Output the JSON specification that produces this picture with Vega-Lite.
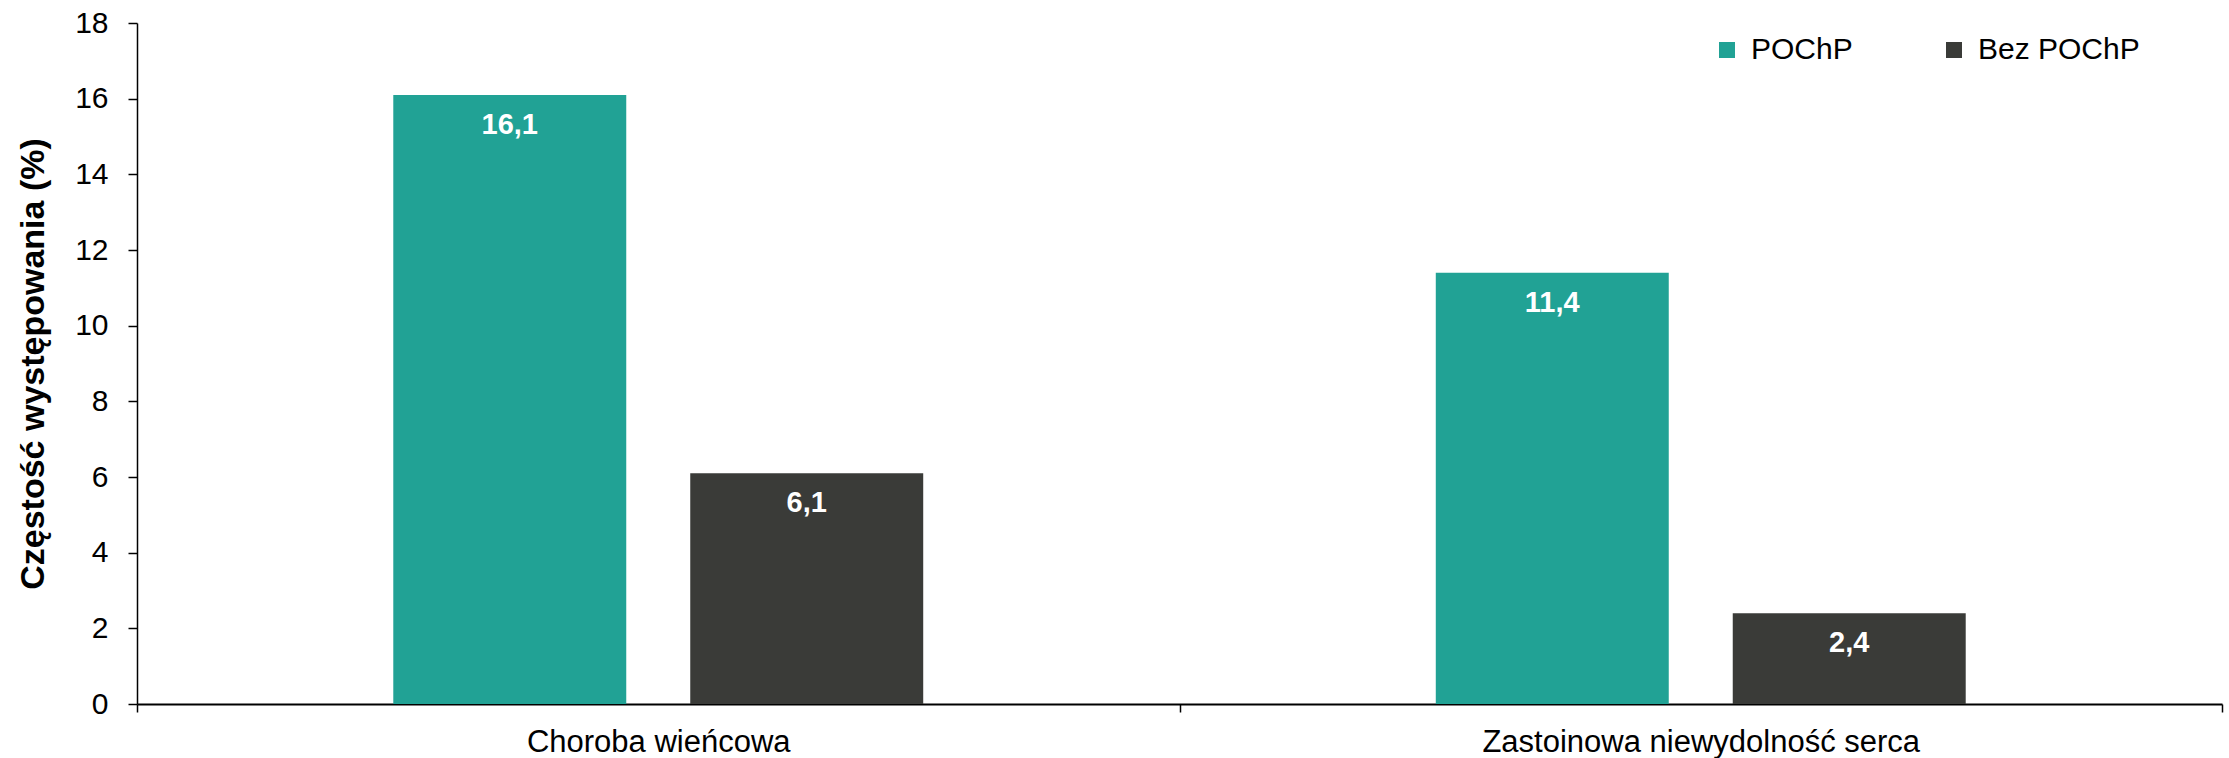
{
  "$schema": "https://vega.github.io/schema/vega-lite/v6.json",
  "width": 2085,
  "height": 681,
  "autosize": {"type": "none"},
  "padding": {"left": 137, "top": 23, "right": 7, "bottom": 54},
  "background": "white",
  "config": {
    "font": "Liberation Sans",
    "view": {"stroke": null},
    "axis": {"domainColor": "black", "tickColor": "black", "labelColor": "black", "titleColor": "black", "domainWidth": 1.5, "tickWidth": 1.5}
  },
  "data": {
    "values": [
      {"kategoria": "Choroba wieńcowa", "grupa": "POChP", "wartosc": 16.1, "etykieta": "16,1"},
      {"kategoria": "Choroba wieńcowa", "grupa": "Bez POChP", "wartosc": 6.1, "etykieta": "6,1"},
      {"kategoria": "Zastoinowa niewydolność serca", "grupa": "POChP", "wartosc": 11.4, "etykieta": "11,4"},
      {"kategoria": "Zastoinowa niewydolność serca", "grupa": "Bez POChP", "wartosc": 2.4, "etykieta": "2,4"}
    ]
  },
  "encoding": {
    "x": {
      "field": "kategoria", "type": "nominal", "sort": null,
      "scale": {"paddingInner": 0, "paddingOuter": 0},
      "axis": {"title": null, "labelAngle": 0, "tickBand": "extent", "labelFontSize": 31, "labelLimit": 0, "labelPadding": 15, "tickSize": 8, "domainWidth": 2}
    },
    "xOffset": {
      "field": "grupa", "type": "nominal",
      "scale": {"domain": ["POChP", "Bez POChP"], "paddingInner": 0.2155, "paddingOuter": 0.863}
    },
    "y": {
      "field": "wartosc", "type": "quantitative",
      "scale": {"domain": [0, 18], "nice": false},
      "axis": {"values": [0, 2, 4, 6, 8, 10, 12, 14, 16, 18], "grid": false, "title": "Częstość występowania (%)", "titleFontSize": 34, "titleFontWeight": "bold", "labelFontSize": 30, "labelPadding": 20, "tickSize": 9, "titlePadding": 24}
    }
  },
  "layer": [
    {
      "mark": {"type": "bar"},
      "encoding": {
        "color": {
          "field": "grupa", "type": "nominal",
          "scale": {"domain": ["POChP", "Bez POChP"], "range": ["#21A295", "#3A3B38"]},
          "legend": {"title": null, "orient": "none", "legendX": 1575, "legendY": 12, "direction": "horizontal", "symbolType": "square", "symbolSize": 256, "symbolStrokeWidth": 0, "labelFontSize": 30, "labelColor": "black", "labelOffset": 9, "columnPadding": 86, "padding": 0, "labelLimit": 0}
        }
      }
    },
    {
      "mark": {"type": "text", "color": "white", "fontWeight": "bold", "fontSize": 29, "baseline": "middle", "dy": 30},
      "encoding": {"text": {"field": "etykieta"}}
    }
  ]
}
